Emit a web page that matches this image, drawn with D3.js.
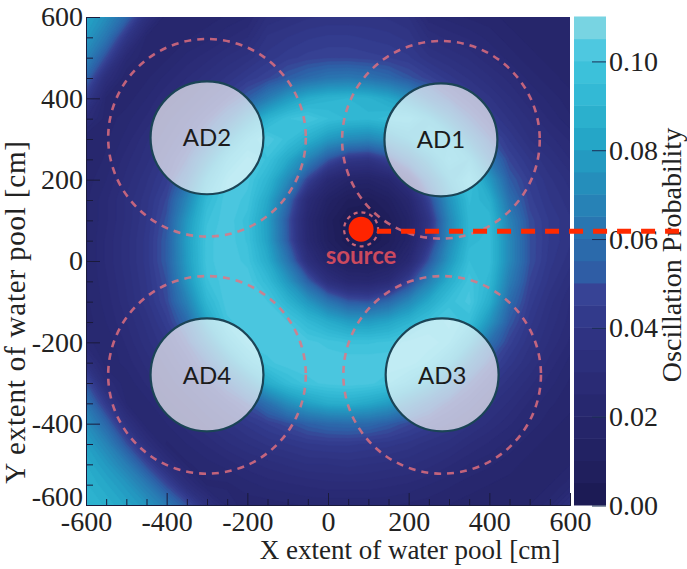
<!DOCTYPE html>
<html>
<head>
<meta charset="utf-8">
<script src="https://cdn.jsdelivr.net/npm/d3@7"></script>
<style>
  body { margin: 0; background: #ffffff; }
  svg { display: block; }
</style>
</head>
<body>
<svg id="chart" width="687" height="569"></svg>
<script>
// ---------------- DATA ----------------
// grid sample positions [cm]
const gridX = [-600,-550,-500,-450,-400,-350,-300,-250,-200,-150,-100,-50,0,50,100,150,200,250,300,350,400,450,500,550,600];
const gridY = [600,550,500,450,400,350,300,250,200,150,100,50,0,-50,-100,-150,-200,-250,-300,-350,-400,-450,-500,-550,-600];

const probability = [
  [.082,.072,.056,.034,.020,.020,.021,.023,.025,.033,.035,.037,.038,.038,.038,.037,.035,.026,.024,.022,.021,.019,.019,.019,.019],
  [.077,.062,.040,.022,.020,.022,.024,.027,.030,.038,.040,.042,.043,.043,.042,.041,.039,.032,.029,.027,.024,.021,.019,.019,.019],
  [.068,.048,.026,.020,.022,.026,.029,.033,.036,.041,.044,.046,.047,.047,.046,.045,.043,.038,.035,.032,.028,.024,.021,.019,.019],
  [.056,.032,.020,.022,.026,.030,.034,.038,.043,.047,.053,.058,.062,.063,.061,.057,.051,.046,.041,.037,.033,.029,.024,.021,.019],
  [.043,.022,.021,.025,.030,.034,.039,.045,.053,.065,.077,.085,.089,.090,.088,.083,.074,.060,.050,.043,.038,.033,.028,.024,.021],
  [.030,.021,.024,.028,.034,.039,.046,.057,.075,.089,.097,.100,.095,.092,.091,.094,.095,.085,.069,.052,.043,.037,.032,.027,.023],
  [.020,.022,.026,.032,.037,.044,.056,.076,.093,.102,.096,.087,.077,.071,.069,.074,.083,.093,.089,.069,.051,.042,.035,.031,.027],
  [.020,.023,.029,.034,.041,.050,.071,.092,.101,.097,.084,.068,.051,.040,.038,.046,.061,.078,.093,.087,.063,.047,.040,.035,.030],
  [.021,.025,.031,.037,.044,.059,.085,.100,.101,.090,.071,.046,.026,.018,.017,.022,.036,.061,.083,.097,.077,.053,.044,.038,.034],
  [.022,.027,.033,.039,.048,.069,.093,.102,.099,.083,.058,.028,.014,.007,.006,.011,.022,.046,.074,.093,.087,.060,.046,.040,.036],
  [.022,.027,.033,.040,.051,.076,.097,.102,.096,.079,.051,.023,.009,.002,.001,.006,.016,.038,.069,.091,.092,.067,.049,.042,.038],
  [.022,.028,.034,.041,.053,.079,.099,.102,.097,.080,.052,.024,.010,.003,.002,.007,.017,.040,.070,.091,.094,.070,.050,.042,.038],
  [.022,.028,.034,.041,.053,.078,.099,.102,.099,.085,.062,.033,.017,.010,.009,.013,.025,.051,.076,.095,.094,.070,.050,.041,.036],
  [.022,.027,.033,.040,.050,.075,.097,.102,.102,.093,.076,.054,.033,.024,.023,.028,.045,.067,.086,.099,.091,.065,.047,.039,.033],
  [.022,.026,.032,.039,.048,.067,.091,.102,.102,.100,.089,.076,.062,.052,.050,.057,.070,.084,.096,.101,.086,.058,.044,.036,.030],
  [.021,.025,.030,.036,.044,.057,.082,.099,.102,.102,.100,.092,.085,.079,.078,.082,.089,.097,.101,.095,.075,.052,.041,.034,.029],
  [.026,.023,.028,.034,.040,.049,.068,.089,.101,.102,.102,.101,.099,.097,.097,.098,.101,.102,.098,.083,.060,.046,.038,.032,.027],
  [.036,.023,.026,.031,.036,.043,.053,.072,.090,.099,.102,.102,.102,.102,.102,.102,.102,.097,.086,.065,.049,.041,.035,.029,.024],
  [.050,.030,.023,.028,.033,.038,.044,.054,.069,.085,.094,.099,.101,.102,.101,.098,.091,.080,.064,.050,.042,.036,.031,.026,.022],
  [.062,.042,.025,.024,.029,.033,.038,.043,.050,.060,.072,.080,.085,.086,.083,.078,.068,.057,.048,.042,.036,.032,.027,.023,.021],
  [.072,.056,.036,.023,.025,.029,.033,.037,.041,.045,.049,.054,.057,.058,.057,.053,.048,.044,.040,.036,.032,.028,.024,.021,.019],
  [.080,.068,.050,.033,.022,.025,.028,.032,.035,.038,.040,.042,.043,.043,.042,.041,.039,.036,.034,.030,.027,.024,.021,.019,.019],
  [.085,.077,.065,.048,.032,.022,.024,.026,.029,.031,.033,.035,.035,.036,.035,.034,.033,.031,.028,.025,.023,.021,.019,.019,.020],
  [.088,.083,.076,.064,.048,.032,.022,.022,.024,.026,.027,.028,.029,.029,.029,.028,.027,.025,.023,.021,.020,.019,.019,.020,.024],
  [.090,.087,.082,.075,.064,.050,.035,.024,.021,.021,.022,.023,.023,.023,.023,.023,.022,.021,.020,.019,.019,.019,.020,.024,.034]
];

// detectors (AD) and source position [cm]
const detectorNames = ["AD1", "AD2", "AD3", "AD4"];
const detectorX = [280, -300, 283, -300];
const detectorY = [298, 303, -280, -280];
const detectorRadius = 140;      // cm, detector body
const detectorZoneRadius = 245;  // cm, dashed zone
const sourceLabel = "source";
const sourceXY = [82, 78];

// axes
const axisRange = [-600, 600];
const xTicks = [-600, -400, -200, 0, 200, 400, 600];
const yTicks = [-600, -400, -200, 0, 200, 400, 600];
const minorTicks = [-550,-500,-450,-350,-300,-250,-150,-100,-50,50,100,150,250,300,350,450,500,550];
const xTitle = "X extent of water pool [cm]";
const yTitle = "Y extent of water pool [cm]";

// colour scale (colour bar bands)
const colorMax = 0.11;
const colorTicks = [0.00, 0.02, 0.04, 0.06, 0.08, 0.10];
const colorTitle = "Oscillation Probability";
const levels = [0,0.005,0.010,0.015,0.020,0.025,0.030,0.035,0.040,0.045,0.050,0.055,0.060,0.065,0.070,0.075,0.080,0.085,0.090,0.095,0.100,0.105];
const bandColors = ["#1c1b55","#201f5d","#222263","#252569","#27286f","#2a2b75","#2c2f7b","#2f3382","#323a8b","#374395",
                    "#2f5da5","#2b6aab","#2976b1","#2782b6","#258ebb","#249ac1","#25a6c7","#2bb0cd","#33b9d5","#3cc1da",
                    "#4ec8e0","#78d4e2"];

// ---------------- DRAW ----------------
const W = 687, H = 569;
const plot = { left: 86, right: 570, top: 17, bottom: 505 };
const svg = d3.select("#chart");
const axisFont = "'Liberation Serif', 'Times New Roman', serif";

const x = d3.scaleLinear().domain(axisRange).range([plot.left, plot.right]);
const y = d3.scaleLinear().domain(axisRange).range([plot.bottom, plot.top]);

// smooth colour for fine contour steps, anchored on the colour-bar band colours
const bandStep = levels[1] - levels[0];
const fineColor = d3.scaleLinear()
  .domain(levels.map(v => v + bandStep / 2))
  .range(bandColors)
  .clamp(true);
const fineStep = bandStep / 2;
const fineLevels = d3.range(0, colorMax, fineStep);

svg.append("defs").append("clipPath").attr("id", "plotclip")
  .append("rect")
  .attr("x", plot.left).attr("y", plot.top)
  .attr("width", plot.right - plot.left).attr("height", plot.bottom - plot.top);

// heat map via contour bands
const nx = gridX.length, ny = gridY.length;
const stepX = gridX[1] - gridX[0], stepY = gridY[1] - gridY[0];
const values = probability.flat();
const contours = d3.contours().size([nx, ny]).thresholds(fineLevels)(values);
const proj = d3.geoTransform({
  point: function (gx, gy) {
    this.stream.point(x(gridX[0] + (gx - 0.5) * stepX), y(gridY[0] + (gy - 0.5) * stepY));
  }
});
const path = d3.geoPath(proj);
const heat = svg.append("g").attr("clip-path", "url(#plotclip)");
heat.selectAll("path").data(contours).join("path")
  .attr("d", path)
  .attr("fill", d => fineColor(d.value + fineStep / 2))
  .attr("stroke", d => fineColor(d.value + fineStep / 2))
  .attr("stroke-width", 0.6);

// overlay: dashed zones, detectors, source
const over = svg.append("g").attr("clip-path", "url(#plotclip)");
const rPx = r => x(r) - x(0);

over.selectAll("circle.zone").data(detectorNames).join("circle")
  .attr("class", "zone")
  .attr("cx", (d, i) => x(detectorX[i]))
  .attr("cy", (d, i) => y(detectorY[i]))
  .attr("r", rPx(detectorZoneRadius))
  .attr("fill", "none")
  .attr("stroke", "#e8727e")
  .attr("stroke-opacity", 0.8)
  .attr("stroke-width", 2.6)
  .attr("stroke-dasharray", "7,6");

over.selectAll("circle.ad").data(detectorNames).join("circle")
  .attr("class", "ad")
  .attr("cx", (d, i) => x(detectorX[i]))
  .attr("cy", (d, i) => y(detectorY[i]))
  .attr("r", rPx(detectorRadius))
  .attr("fill", "#ffffff")
  .attr("fill-opacity", 0.66)
  .attr("stroke", "#1b4456")
  .attr("stroke-width", 2.2);

over.selectAll("text.ad").data(detectorNames).join("text")
  .attr("class", "ad")
  .attr("x", (d, i) => x(detectorX[i]))
  .attr("y", (d, i) => y(detectorY[i]))
  .attr("dy", "0.36em")
  .attr("text-anchor", "middle")
  .style("font-family", "Lato, 'Open Sans', sans-serif")
  .attr("font-size", 24)
  .attr("fill", "#1b1b1b")
  .text(d => d);

const sx = x(sourceXY[0]), sy = y(sourceXY[1]);
over.append("circle")
  .attr("cx", sx).attr("cy", sy).attr("r", 17)
  .attr("fill", "none")
  .attr("stroke", "#e8727e").attr("stroke-opacity", 0.85)
  .attr("stroke-width", 2.2).attr("stroke-dasharray", "4,4");

over.append("text")
  .attr("x", sx).attr("y", sy + 35)
  .attr("text-anchor", "middle")
  .style("font-family", "Lato, 'Open Sans', sans-serif")
  .attr("font-weight", "bold")
  .attr("font-size", 24)
  .attr("fill", "#e4505e")
  .attr("fill-opacity", 0.88)
  .text(sourceLabel);

// axes
const fmtInt = d => String(d);
const tickCol = "#1a1a3c";

const gx = svg.append("g").attr("transform", `translate(0,${plot.bottom})`);
gx.call(d3.axisBottom(x).tickValues(minorTicks).tickSize(-6).tickFormat(""));
const gx2 = svg.append("g").attr("transform", `translate(0,${plot.bottom})`);
gx2.call(d3.axisBottom(x).tickValues(xTicks).tickSize(-12).tickPadding(6).tickFormat(fmtInt));

const gy = svg.append("g").attr("transform", `translate(${plot.left},0)`);
gy.call(d3.axisLeft(y).tickValues(minorTicks).tickSize(-7).tickFormat(""));
const gy2 = svg.append("g").attr("transform", `translate(${plot.left},0)`);
gy2.call(d3.axisLeft(y).tickValues(yTicks).tickSize(-14).tickPadding(3).tickFormat(fmtInt));
// lift the lowest y label a little so it does not collide with the x label
gy2.selectAll(".tick text").filter(d => d === axisRange[0]).attr("y", -8);

[gx, gx2, gy, gy2].forEach(g => {
  g.attr("font-family", null);
  g.selectAll(".tick line").attr("stroke", tickCol);
  g.select(".domain").attr("stroke", tickCol);
  g.selectAll("text").style("font-family", axisFont).style("font-size", "28px").attr("fill", "#222");
});

// axis titles
svg.append("text")
  .attr("x", 410).attr("y", 559)
  .attr("text-anchor", "middle")
  .style("font-family", axisFont).style("font-size", "27px").attr("fill", "#222")
  .text(xTitle);
svg.append("text")
  .attr("transform", "translate(25,312) rotate(-90)")
  .attr("text-anchor", "middle")
  .style("font-family", axisFont).style("font-size", "29px").style("letter-spacing", "0.8px")
  .attr("fill", "#222")
  .text(yTitle);

// colour bar
const cbX = 574, cbW = 32;
const cy = d3.scaleLinear().domain([0, colorMax]).range([505.5, 17]);
const cbar = svg.append("g");
cbar.selectAll("rect").data(levels).join("rect")
  .attr("x", cbX).attr("width", cbW)
  .attr("y", (d, i) => cy(i + 1 < levels.length ? levels[i + 1] : colorMax) - 0.5)
  .attr("height", (d, i) => cy(d) - cy(i + 1 < levels.length ? levels[i + 1] : colorMax) + 0.5)
  .attr("fill", (d, i) => bandColors[i]);
const gc = svg.append("g").attr("transform", `translate(${cbX + cbW},0)`);
gc.call(d3.axisRight(cy).tickValues(colorTicks).tickSize(-14).tickPadding(3).tickFormat(d3.format(".2f")));
gc.attr("font-family", null);
gc.select(".domain").remove();
gc.selectAll(".tick line").attr("stroke", "#1b2f55");
gc.selectAll("text").style("font-family", axisFont).style("font-size", "28px").attr("fill", "#222");

svg.append("text")
  .attr("transform", "translate(681,255) rotate(-90)")
  .attr("text-anchor", "middle")
  .style("font-family", axisFont).style("font-size", "28px").attr("fill", "#222")
  .text(colorTitle);

// source marker and pointer line (drawn last, on top)
svg.append("line")
  .attr("x1", sx + 16).attr("x2", W)
  .attr("y1", sy + 2).attr("y2", sy + 2)
  .attr("stroke", "#ff2a00").attr("stroke-width", 5)
  .attr("stroke-dasharray", "14,10");
svg.append("circle")
  .attr("cx", sx).attr("cy", sy).attr("r", 12.5)
  .attr("fill", "#ff2400");
</script>
</body>
</html>
